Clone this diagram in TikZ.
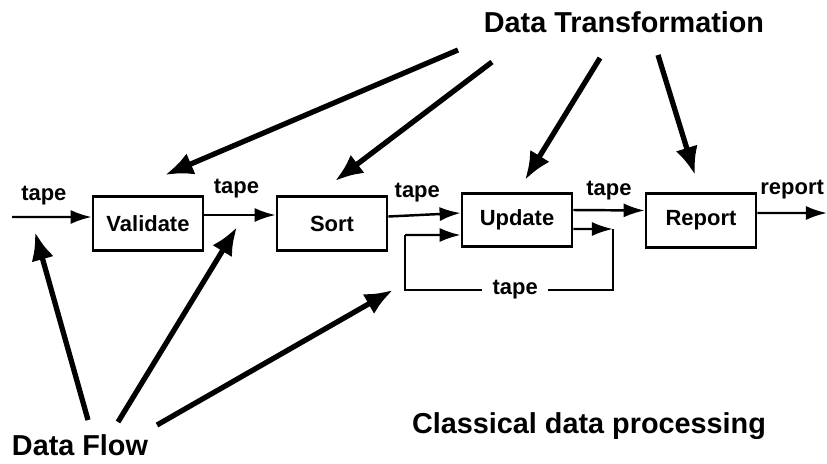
\documentclass[tikz,border=0pt]{standalone}
\usepackage{fontspec}
\setmainfont{Liberation Sans}
\usetikzlibrary{positioning,arrows.meta}
\tikzset{>=latex}

\begin{document}
\begin{tikzpicture}[x=0.02cm, y=-0.02cm, font=\bfseries]
    \tikzset{%
      proc/.style={draw, line width=1.5pt, minimum width=2.2cm, minimum height=1.07cm, font=\bfseries\fontsize{12.5}{14}\selectfont},
      lbl/.style={font=\bfseries\fontsize{12.5}{14}\selectfont, inner sep=1pt},
      head/.style={font=\bfseries\fontsize{16.4}{19}\selectfont},
      flow/.style={line width=1.4pt, -{Latex[length=12pt, width=8pt]}},
      big/.style={line width=3pt, -{Latex[length=16pt, width=13pt]}}
      }
    \useasboundingbox (0,0) rectangle (827,463);

    \node [head] (Htrans) at (624,22) {Data Transformation};
    \node [head] (Hflow) at (80,445) {Data Flow};
    \node [head] (Hclass) at (589,426) {Classical data processing};

    % the four processing steps
    \node [proc] (Pval) at (148,223.5) {Validate};
    \node [proc] (Psort) at (332,223.5) {Sort};
    \node [proc] (Pupd) at (517,220) {Update};
    \node [proc] (Prep) at (701,220.5) {Report};

    \coordinate (Cin) at (12,217);
    \coordinate (Cout) at (827,213);
    \draw [flow] (Cin) -- node [lbl, pos=0.4, above=5pt] {tape} ([yshift=0.13cm]Pval.west);
    \draw [flow] ([yshift=0.17cm]Pval.east) -- node [lbl, pos=0.45, above=8pt] {tape} ([yshift=0.17cm]Psort.west);
    \draw [flow] ([yshift=0.14cm]Psort.east) -- node [lbl, pos=0.4, above=6pt] {tape} ([yshift=0.14cm]Pupd.west);
    \draw [flow] ([yshift=0.2cm]Pupd.east) -- node [lbl, pos=0.5, above=4pt] {tape} ([yshift=0.2cm]Prep.west);
    \draw [flow] ([yshift=0.15cm]Prep.east) -- node [lbl, pos=0.5, above=6pt] {report} (Cout);

    % update loop back onto its own tape
    \coordinate (Lr) at (613,229);
    \coordinate (Lrb) at (613,290);
    \coordinate (Llb) at (405,290);
    \coordinate (Llt) at (405,235);
    \draw [flow] ([yshift=-0.18cm]Pupd.east) -- (Lr);
    \draw [line width=1.4pt] (Lr) -- (Lrb) -- node [lbl, fill=white, inner xsep=6pt, pos=0.47] {tape} (Llb) -- (Llt);
    \draw [flow] (Llt) -- ([yshift=-0.3cm]Pupd.west);

    % transformation arrows
    \coordinate (T1) at (458,50);
    \coordinate (T2) at (492,62);
    \coordinate (T3) at (600,58);
    \coordinate (T4) at (658,55);
    \coordinate (Tv) at (165,175);
    \coordinate (Ts) at (335,181);
    \coordinate (Tu) at (525,180);
    \coordinate (Tr) at (695,175);
    \draw [big] (T1) -- (Tv);
    \draw [big] (T2) -- (Ts);
    \draw [big] (T3) -- (Tu);
    \draw [big] (T4) -- (Tr);

    % flow arrows
    \coordinate (F1) at (88,420);
    \coordinate (F2) at (118,422);
    \coordinate (F3) at (157,425);
    \coordinate (Fa) at (35,232);
    \coordinate (Fb) at (237,227);
    \coordinate (Fc) at (393,290);
    \draw [big] (F1) -- (Fa);
    \draw [big] (F2) -- (Fb);
    \draw [big] (F3) -- (Fc);
\end{tikzpicture}
\end{document}
